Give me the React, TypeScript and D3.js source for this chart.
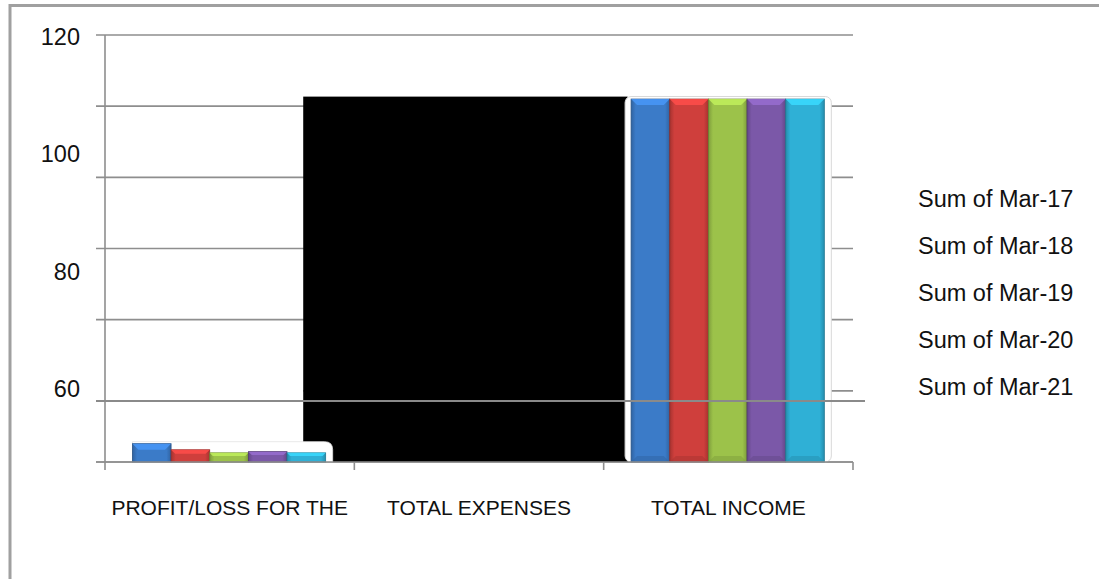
import React from "react";
import * as d3 from "d3";

const categories = ["PROFIT/LOSS FOR THE", "TOTAL EXPENSES", "TOTAL INCOME"];
const seriesNames = ["Sum of Mar-17", "Sum of Mar-18", "Sum of Mar-19", "Sum of Mar-20", "Sum of Mar-21"];
const profitValues = [53.0, 52.0, 51.5, 51.7, 51.5];
const expenseValues = [109.9, 109.9, 109.9, 109.9, 109.9];
const incomeValues = [109.5, 109.5, 109.5, 109.5, 109.5];
const yTickValues = [120, 100, 80, 60];
const seriesColors = ["#3b7bc8", "#cf3f3c", "#9cc24a", "#7b58a8", "#2fb0d6"];

const W = 1099;
const H = 579;
const plotLeft = 105;
const plotRight = 853;
const plotTop = 35;
const plotBottom = 462;

const FONT = "'Liberation Sans', Arial, sans-serif";

function Bar({ x, y, w, h, color, id }: any) {
  const c = d3.color(color)!;
  const dark = c.darker(0.6).formatHex();
  const darker = c.darker(1.1).formatHex();
  const light = c.brighter(0.6).formatHex();
  const bev = Math.min(6, h / 3);
  return (
    <g>
      <defs>
        <linearGradient id={id} x1="0" x2="1" y1="0" y2="0">
          <stop offset="0" stopColor={dark} />
          <stop offset="0.12" stopColor={color} />
          <stop offset="0.88" stopColor={color} />
          <stop offset="1" stopColor={dark} />
        </linearGradient>
      </defs>
      <rect x={x} y={y} width={w} height={h} fill={`url(#${id})`} stroke={darker} strokeWidth={0.8} />
      <polygon
        points={`${x},${y} ${x + w},${y} ${x + w - bev},${y + bev} ${x + bev},${y + bev}`}
        fill={light}
        opacity={0.85}
      />
      {h > 20 && (
        <polygon
          points={`${x},${y + h} ${x + w},${y + h} ${x + w - bev},${y + h - bev} ${x + bev},${y + h - bev}`}
          fill={dark}
          opacity={0.5}
        />
      )}
    </g>
  );
}

export default function App() {
  const y = d3.scaleLinear().domain([50, 120]).range([plotBottom, plotTop]);
  const yLabel = d3.scaleLinear().domain([60, 120]).range([397, 45]);
  const gridScale = d3.scaleLinear().domain([0, 6]).range([plotBottom, plotTop]);
  const gridIdx = d3.range(0, 7);

  const x = d3.scaleBand<string>().domain(categories).range([plotLeft, plotRight]).padding(0);
  const bw = x.bandwidth();
  const inner = d3.scaleBand<string>().domain(seriesNames).range([bw * 0.11, bw * 0.885]).padding(0);

  const blackX0 = (x("TOTAL EXPENSES") as number) - bw * 0.205;
  const blackX1 = (x("TOTAL INCOME") as number) + bw * 0.096;
  const blackTop = y(d3.max(expenseValues)!);

  const incX = x("TOTAL INCOME") as number;
  const incPanelX0 = incX + inner(seriesNames[0])! - 6;
  const incPanelX1 = incX + inner(seriesNames[4])! + inner.bandwidth() + 7;
  const incPanelTop = y(d3.max(incomeValues)!) - 2.5;

  const profX = x("PROFIT/LOSS FOR THE") as number;
  const profPanelX0 = profX + inner(seriesNames[0])!;
  const profPanelX1 = profX + inner(seriesNames[4])! + inner.bandwidth() + 7;
  const profPanelTop = y(d3.max(profitValues)!) - 2;

  const gridColor = "#8e8e8e";

  return (
    <svg width={W} height={H} style={{ position: "absolute", left: 0, top: 0, background: "#fff" }}>
      <rect x={0} y={0} width={W} height={H} fill="#fff" />
      {/* frame */}
      <line x1={10} x2={W} y1={5.5} y2={5.5} stroke="#a0a0a0" strokeWidth={3} />
      <line x1={10} x2={10} y1={4} y2={H} stroke="#a0a0a0" strokeWidth={3} />

      {/* gridlines */}
      {gridIdx.map((i) => (
        <line
          key={i}
          x1={i === 1 ? blackX0 : plotLeft - 9}
          x2={plotRight}
          y1={gridScale(i)}
          y2={gridScale(i)}
          stroke={gridColor}
          strokeWidth={1.6}
        />
      ))}
      {/* y axis */}
      <line x1={plotLeft} x2={plotLeft} y1={plotTop} y2={plotBottom + 8} stroke={gridColor} strokeWidth={1.6} />
      {/* x ticks */}
      {categories.map((c) => (
        <line
          key={c}
          x1={(x(c) as number) + bw}
          x2={(x(c) as number) + bw}
          y1={plotBottom}
          y2={plotBottom + 8}
          stroke={gridColor}
          strokeWidth={1.6}
        />
      ))}

      {/* redacted expenses block */}
      <rect x={blackX0} y={blackTop} width={blackX1 - blackX0} height={plotBottom - blackTop} fill="#000" />

      {/* income panel and bars */}
      <rect
        x={incPanelX0}
        y={incPanelTop}
        width={incPanelX1 - incPanelX0}
        height={plotBottom - incPanelTop}
        rx={6}
        fill="#fff"
        stroke="#d8d8d8"
        strokeWidth={1}
      />
      {incomeValues.map((v, i) => (
        <Bar
          key={"inc" + i}
          id={"ginc" + i}
          x={incX + inner(seriesNames[i])!}
          y={y(v)}
          w={inner.bandwidth()}
          h={plotBottom - y(v)}
          color={seriesColors[i]}
        />
      ))}

      {/* profit panel and bars */}
      <path
        d={`M${profPanelX0},${plotBottom} V${profPanelTop} H${profPanelX1 - 8} Q${profPanelX1},${profPanelTop} ${profPanelX1},${profPanelTop + 8} V${plotBottom} Z`}
        fill="#fff"
        stroke="#e2e2e2"
        strokeWidth={0.8}
      />
      {profitValues.map((v, i) => (
        <Bar
          key={"pr" + i}
          id={"gpr" + i}
          x={profX + inner(seriesNames[i])!}
          y={y(v)}
          w={inner.bandwidth()}
          h={plotBottom - y(v)}
          color={seriesColors[i]}
        />
      ))}

      {/* baseline */}
      <line x1={plotLeft - 9} x2={plotRight} y1={plotBottom} y2={plotBottom} stroke={gridColor} strokeWidth={1.6} />
      {/* 60 line */}
      <line x1={plotLeft - 9} x2={plotRight + 12} y1={y(60)} y2={y(60)} stroke="#8a8a8a" strokeWidth={2} />

      {/* y labels */}
      {yTickValues.map((v) => (
        <text key={v} x={80} y={yLabel(v)} textAnchor="end" fontFamily={FONT} fontSize={23.5} fill="#111">
          {v}
        </text>
      ))}

      {/* category labels */}
      {categories.map((c) => (
        <text
          key={c}
          x={(x(c) as number) + bw / 2}
          y={515}
          textAnchor="middle"
          fontFamily={FONT}
          fontSize={21}
          fill="#111"
        >
          {c}
        </text>
      ))}

      {/* legend */}
      {seriesNames.map((s, i) => (
        <text key={s} x={918} y={206.7 + i * 47.1} fontFamily={FONT} fontSize={23.5} fill="#111">
          {s}
        </text>
      ))}
    </svg>
  );
}
